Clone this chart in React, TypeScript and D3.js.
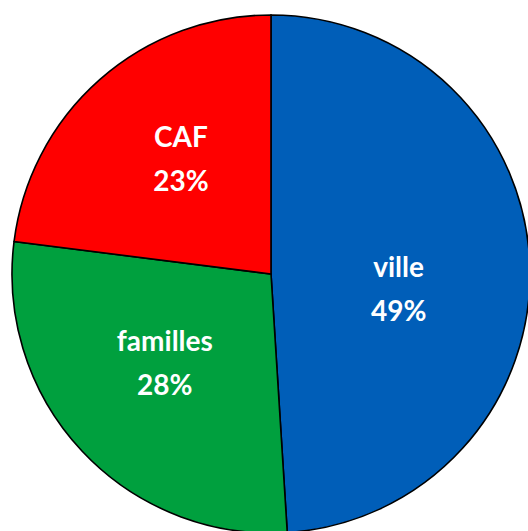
import React from "react";
import * as d3 from "d3";

const categories = ["ville", "familles", "CAF"];
const values = [49, 28, 23];
const colors = ["#005EB8", "#00A03E", "#FF0000"];

export default function App() {
  const W = 528, H = 531;
  const cx = 271, cy = 274, r = 259;
  const pie = d3.pie<number>().sort(null).value((d) => d)(values);
  const arc = d3.arc<d3.PieArcDatum<number>>().innerRadius(0).outerRadius(r);
  const labelArc = d3.arc<d3.PieArcDatum<number>>().innerRadius(r * 0.52).outerRadius(r * 0.52);
  const nudge = [[-7, 20], [-8, -2], [-1, -13]];
  return (
    <svg width={W} height={H} style={{ position: "absolute", left: 0, top: 0, background: "#fff" }}>
      <g transform={`translate(${cx},${cy})`}>
        {pie.map((p, i) => (
          <path key={i} d={arc(p) || ""} fill={colors[i]} stroke="#000" strokeWidth={1.6} />
        ))}
        {pie.map((p, i) => {
          const [x0, y0] = labelArc.centroid(p);
          const x = x0 + nudge[i][0];
          const y = y0 + nudge[i][1];
          return (
            <text key={"t" + i} x={x} y={y} textAnchor="middle" fill="#fff"
              style={{ fontFamily: "Lato, sans-serif", fontWeight: 700, fontSize: 28 }}>
              <tspan x={x} dy={-13}>{categories[i]}</tspan>
              <tspan x={x} dy={44}>{values[i]}%</tspan>
            </text>
          );
        })}
      </g>
    </svg>
  );
}
